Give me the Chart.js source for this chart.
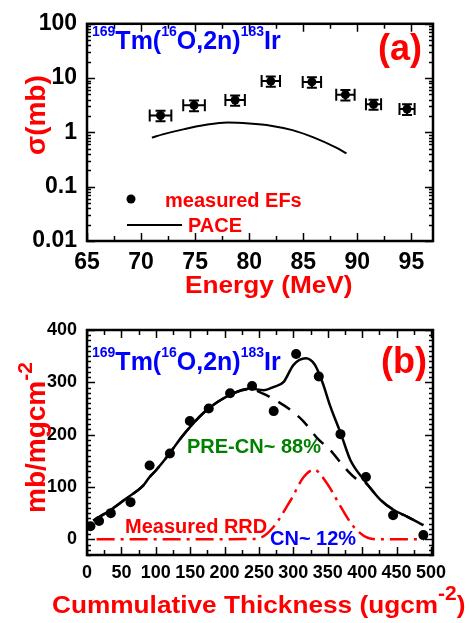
<!DOCTYPE html>
<html>
<head>
<meta charset="utf-8">
<script src="https://cdn.jsdelivr.net/npm/chart.js@4.4.0/dist/chart.umd.min.js"></script>
<style>
  html, body { margin: 0; padding: 0; background: #fff; }
  #wrap { position: relative; width: 470px; height: 623px; }
  canvas { position: absolute; left: 0; top: 0; }
</style>
</head>
<body>
<div id="wrap">
  <canvas id="chartA" width="470" height="623"></canvas>
  <canvas id="chartB" width="470" height="623"></canvas>
</div>
<script>
// ---- panel (a): excitation function ----
const energy    = [71.8, 74.9, 78.7, 82.0, 85.8, 88.9, 91.5, 94.6];
const sigma     = [2.05, 3.15, 3.95, 8.8, 8.5, 4.95, 3.3, 2.7];
const energyErr = [1.0, 1.0, 0.9, 0.85, 0.85, 0.85, 0.7, 0.7];
const sigmaErr  = [0.45, 0.7, 0.85, 1.9, 1.85, 1.1, 0.7, 0.6];
const paceE     = [71, 72, 74, 76, 78, 80, 82, 84, 86, 88, 89];
const paceSigma = [0.80, 0.92, 1.15, 1.38, 1.52, 1.46, 1.33, 1.10, 0.80, 0.53, 0.41];
const energyTicks = [65, 70, 75, 80, 85, 90, 95];
const sigmaTicks  = [0.01, 0.1, 1, 10, 100];

// ---- panel (b): recoil range distribution ----
const thick = [5, 17.5, 34.6, 63.3, 91, 120.5, 149.5, 177, 208, 240, 271.4, 304, 337, 368.5, 405.5, 445, 489];
const rrd   = [25, 35, 50, 71, 141, 164, 226, 250, 279, 293, 245, 354, 311, 201, 119, 46, 8];
const fitX  = [9, 33, 57, 82, 91, 101, 120, 135, 150, 174, 208, 237, 257, 271, 286, 300, 318, 331, 342, 354, 369, 383, 403, 427, 446, 466, 489];
const fitY  = [36, 55, 78, 103, 119, 133, 164, 191, 215, 247, 276, 288, 285, 291, 301, 333, 346, 334, 301, 253, 202, 151, 113, 75, 56, 43, 27];
const preX  = [9, 33, 57, 82, 91, 101, 120, 135, 150, 174, 208, 237, 255, 274, 296, 315, 335, 354, 374, 391, 403, 427, 446, 466, 489];
const preY  = [36, 55, 78, 103, 119, 133, 164, 191, 215, 247, 276, 287, 279, 266, 247, 225, 193, 170, 138, 116, 110, 75, 56, 43, 27];
const cnX   = [14, 100, 200, 233, 252, 271, 296, 315, 330, 349, 369, 388, 408, 427, 490];
const cnY   = [0, 0, 0, 0.5, 3, 23.5, 74.6, 119, 133, 106.6, 61.8, 23.5, 3, 0, 0];
const thickTicks = [0, 50, 100, 150, 200, 250, 300, 350, 400, 450, 500];
const rrdTicks   = [0, 100, 200, 300, 400];

const FONT = '"Liberation Sans", Arial, sans-serif';
const RED = '#ff0000', BLUE = '#0000ff', GREEN = '#008000';

const pts = (xs, ys) => xs.map((x, i) => ({ x: x, y: ys[i] }));

function stepValues(min, max, step) {
  const out = [];
  for (let v = Math.ceil(min / step) * step; v <= max + 1e-9; v += step) out.push(+v.toFixed(6));
  return out;
}
function logMinor(e0, e1) {
  const out = [];
  for (let e = e0; e < e1; e++) for (let k = 2; k <= 9; k++) out.push(k * Math.pow(10, e));
  return out;
}

// draws a row of text pieces (for superscripts), optionally rotated
function drawRuns(ctx, x, y, runs, rot) {
  ctx.save();
  ctx.translate(x, y);
  if (rot) ctx.rotate(rot);
  ctx.textBaseline = 'alphabetic';
  ctx.textAlign = 'left';
  let cx = 0;
  runs.forEach(r => {
    const sx = r.sx || 1;
    ctx.font = 'bold ' + r.size + 'px ' + FONT;
    ctx.fillStyle = r.color;
    ctx.save();
    ctx.translate(cx, r.dy || 0);
    ctx.scale(sx, 1);
    ctx.fillText(r.t, 0, 0);
    ctx.restore();
    cx += ctx.measureText(r.t).width * sx;
  });
  ctx.restore();
}

function reactionTitle(size, sup, color) {
  return [
    { t: '169', size: sup, dy: -13, color: color },
    { t: 'Tm(', size: size, color: color },
    { t: '16', size: sup, dy: -13, color: color },
    { t: 'O,2n)', size: size, color: color },
    { t: '183', size: sup, dy: -13, color: color },
    { t: 'Ir', size: size, color: color }
  ];
}

// inward ticks on all four sides plus the box
const framePlugin = {
  id: 'frame',
  afterDatasetsDraw(chart, args, opts) {
    const { ctx, chartArea: a } = chart;
    const x = chart.scales.x, y = chart.scales.y;
    ctx.save();
    ctx.strokeStyle = '#000';
    ctx.lineWidth = 1.5;
    const tick = (scale, values, len) => {
      values.forEach(v => {
        const p = Math.round(scale.getPixelForValue(v)) + 0.5;
        if (scale.isHorizontal()) {
          ctx.moveTo(p, a.bottom); ctx.lineTo(p, a.bottom - len);
          ctx.moveTo(p, a.top); ctx.lineTo(p, a.top + len);
        } else {
          ctx.moveTo(a.left, p); ctx.lineTo(a.left + len, p);
          ctx.moveTo(a.right, p); ctx.lineTo(a.right - len, p);
        }
      });
    };
    ctx.beginPath();
    tick(x, opts.xMajor, 8);
    tick(y, opts.yMajor, 8);
    tick(x, opts.xMinor, 5);
    tick(y, opts.yMinor, 4);
    ctx.stroke();
    ctx.lineWidth = 2.5;
    ctx.strokeRect(a.left, a.top, a.right - a.left, a.bottom - a.top);
    ctx.restore();
  }
};

// x and y error bars with caps
const errPlugin = {
  id: 'errbars',
  afterDatasetsDraw(chart, args, opts) {
    if (!opts.xErr) return;
    const { ctx } = chart;
    const x = chart.scales.x, y = chart.scales.y;
    const data = chart.data.datasets[0].data;
    ctx.save();
    ctx.strokeStyle = '#000';
    ctx.lineWidth = 2;
    ctx.beginPath();
    data.forEach((d, i) => {
      const px = x.getPixelForValue(d.x), py = y.getPixelForValue(d.y);
      const x0 = x.getPixelForValue(d.x - opts.xErr[i]);
      const x1 = x.getPixelForValue(d.x + opts.xErr[i]);
      const y0 = y.getPixelForValue(d.y - opts.yErr[i]);
      const y1 = y.getPixelForValue(d.y + opts.yErr[i]);
      ctx.moveTo(x0, py); ctx.lineTo(x1, py);
      ctx.moveTo(x0, py - 6); ctx.lineTo(x0, py + 6);
      ctx.moveTo(x1, py - 6); ctx.lineTo(x1, py + 6);
      ctx.moveTo(px, y0); ctx.lineTo(px, y1);
      ctx.moveTo(px - 5, y0); ctx.lineTo(px + 5, y0);
      ctx.moveTo(px - 5, y1); ctx.lineTo(px + 5, y1);
    });
    ctx.stroke();
    ctx.restore();
  }
};

const labelPlugin = {
  id: 'labels',
  afterDraw(chart, args, opts) {
    if (opts.draw) opts.draw(chart.ctx);
  }
};

function baseScales(xs, ys, tickSize, xPad) {
  return {
    x: Object.assign({
      type: 'linear',
      afterFit: s => { s.height = 40; },
      grid: { display: false, drawTicks: false },
      border: { display: false },
      ticks: { autoSkip: false, maxRotation: 0, padding: xPad, color: '#000',
               font: { family: FONT, size: tickSize, weight: 'bold' } }
    }, xs),
    y: Object.assign({
      afterFit: s => { s.width = 87; },
      grid: { display: false, drawTicks: false },
      border: { display: false },
      ticks: { autoSkip: false, padding: 10, color: '#000',
               font: { family: FONT, size: tickSize, weight: 'bold' },
               callback: v => String(v) }
    }, ys)
  };
}

// ---------- chart (a) ----------
const scalesA = baseScales(
  { min: 65, max: 97, afterBuildTicks: s => { s.ticks = energyTicks.map(v => ({ value: v })); } },
  { type: 'logarithmic', min: 0.01, max: 100, afterBuildTicks: s => { s.ticks = sigmaTicks.map(v => ({ value: v })); } },
  23, 8);

new Chart(document.getElementById('chartA'), {
  type: 'scatter',
  data: {
    datasets: [
      { label: 'measured EFs', data: pts(energy, sigma), pointRadius: 4.5,
        backgroundColor: '#000', borderWidth: 0 },
      { label: 'PACE', data: pts(paceE, paceSigma), showLine: true, pointRadius: 0,
        borderColor: '#000', borderWidth: 2, cubicInterpolationMode: 'monotone' }
    ]
  },
  options: {
    responsive: false, animation: false, devicePixelRatio: 1,
    layout: { padding: { left: 0, top: 17, right: 37, bottom: 623 - 241 - 40 } },
    scales: scalesA,
    plugins: {
      legend: { display: false }, tooltip: { enabled: false },
      frame: { xMajor: energyTicks, xMinor: stepValues(65, 97, 2.5), yMajor: sigmaTicks, yMinor: logMinor(-2, 2) },
      errbars: { xErr: energyErr, yErr: sigmaErr },
      labels: {
        draw: ctx => {
          drawRuns(ctx, 92, 49, reactionTitle(25, 14, BLUE));
          drawRuns(ctx, 378, 60, [{ t: '(a)', size: 36, color: RED }]);
          // legend
          ctx.save();
          ctx.fillStyle = '#000';
          ctx.beginPath(); ctx.arc(131, 199, 4.5, 0, Math.PI * 2); ctx.fill();
          ctx.strokeStyle = '#000'; ctx.lineWidth = 2;
          ctx.beginPath(); ctx.moveTo(127, 225); ctx.lineTo(182, 225); ctx.stroke();
          ctx.restore();
          drawRuns(ctx, 165, 207, [{ t: 'measured EFs', size: 20, color: RED }]);
          drawRuns(ctx, 188, 232, [{ t: 'PACE', size: 20, color: RED }]);
          // axis titles
          drawRuns(ctx, 185, 293, [{ t: 'Energy (MeV)', size: 23, sx: 1.14, color: RED }]);
          drawRuns(ctx, 45, 155, [{ t: 'σ(mb)', size: 28, color: RED }], -Math.PI / 2);
        }
      }
    }
  },
  plugins: [framePlugin, errPlugin, labelPlugin]
});

// ---------- chart (b) ----------
const scalesB = baseScales(
  { min: 0, max: 503, afterBuildTicks: s => { s.ticks = thickTicks.map(v => ({ value: v })); } },
  { type: 'linear', min: -30, max: 400, afterBuildTicks: s => { s.ticks = rrdTicks.map(v => ({ value: v })); } },
  18, 7);

new Chart(document.getElementById('chartB'), {
  type: 'scatter',
  data: {
    datasets: [
      { label: 'Measured RRD', data: pts(thick, rrd), pointRadius: 5,
        backgroundColor: '#000', borderWidth: 0 },
      { label: 'fit', data: pts(fitX, fitY), showLine: true, pointRadius: 0,
        borderColor: '#000', borderWidth: 2.5, cubicInterpolationMode: 'monotone' },
      { label: 'PRE-CN', data: pts(preX, preY), showLine: true, pointRadius: 0,
        borderColor: '#000', borderWidth: 2.5, borderDash: [14, 10], cubicInterpolationMode: 'monotone' },
      { label: 'CN', data: pts(cnX, cnY), showLine: true, pointRadius: 0,
        borderColor: RED, borderWidth: 2.5, borderDash: [18, 6, 3, 6], cubicInterpolationMode: 'monotone' }
    ]
  },
  options: {
    responsive: false, animation: false, devicePixelRatio: 1,
    layout: { padding: { left: 0, top: 330, right: 37, bottom: 623 - 555 - 40 } },
    scales: scalesB,
    plugins: {
      legend: { display: false }, tooltip: { enabled: false },
      frame: { xMajor: thickTicks, xMinor: stepValues(0, 503, 25), yMajor: rrdTicks, yMinor: stepValues(-30, 400, 10) },
      errbars: {},
      labels: {
        draw: ctx => {
          drawRuns(ctx, 92, 370, reactionTitle(25, 14, BLUE));
          drawRuns(ctx, 381, 373, [{ t: '(b)', size: 36, color: RED }]);
          drawRuns(ctx, 187, 453, [{ t: 'PRE-CN~ 88%', size: 20, color: GREEN }]);
          drawRuns(ctx, 125, 533, [{ t: 'Measured RRD', size: 20, color: RED }]);
          drawRuns(ctx, 270, 545, [{ t: 'CN~ 12%', size: 20, color: BLUE }]);
          drawRuns(ctx, 52, 613, [
            { t: 'Cummulative Thickness (ugcm', size: 23, sx: 1.14, color: RED },
            { t: '-2', size: 21, dy: -13, color: RED },
            { t: ')', size: 23, sx: 1.14, color: RED }
          ]);
          drawRuns(ctx, 45, 513, [
            { t: 'mb/mgcm', size: 28, color: RED },
            { t: '-2', size: 21, dy: -13, color: RED }
          ], -Math.PI / 2);
        }
      }
    }
  },
  plugins: [framePlugin, errPlugin, labelPlugin]
});
</script>
</body>
</html>
